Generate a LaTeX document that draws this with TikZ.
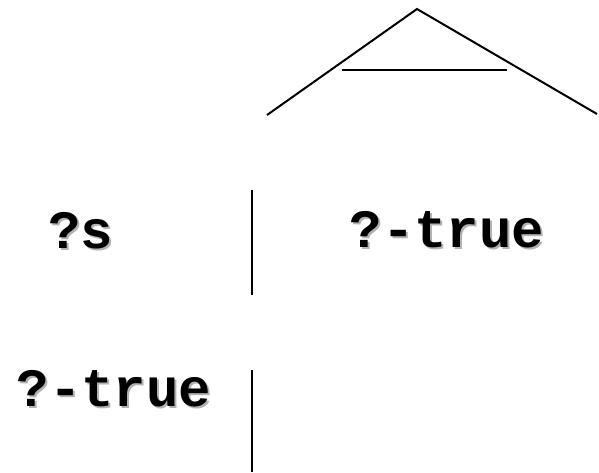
\documentclass[tikz,border=0pt]{standalone}
\usepackage{fontspec}
\setmonofont{Liberation Mono}
\usetikzlibrary{positioning}
\begin{document}
\begin{tikzpicture}[x=1pt,y=-1pt,line width=2pt,
  lbl/.style={font=\ttfamily\bfseries\fontsize{54}{54}\selectfont,inner sep=0pt,anchor=base},
  shd/.style={lbl,text=black!30}]
  \useasboundingbox (0,0) rectangle (599,472);

  % roof
  \coordinate (top) at (417,9);
  \coordinate (rl) at (267,115);
  \coordinate (rr) at (597,114);
  \coordinate (bl) at (342,70);
  \coordinate (br) at (507,70);
  \draw (rl) -- (top) -- (rr);
  \draw (bl) -- (br);

  % first row
  \node[shd] (s-sh) at (83,250) {?s};
  \node[lbl] (s) at (81,248) {?s};
  \node[shd] (t1-sh) at (449,249) {?-true};
  \node[lbl] (t1) at (447,247) {?-true};
  \coordinate (v1a) at (252,190);
  \coordinate (v1b) at (252,295);
  \draw (v1a) -- (v1b);

  % second row
  \node[shd] (t2-sh) at (116,408) {?-true};
  \node[lbl] (t2) at (114,406) {?-true};
  \coordinate (v2a) at (252,370);
  \coordinate (v2b) at (252,472);
  \draw (v2a) -- (v2b);
\end{tikzpicture}
\end{document}
